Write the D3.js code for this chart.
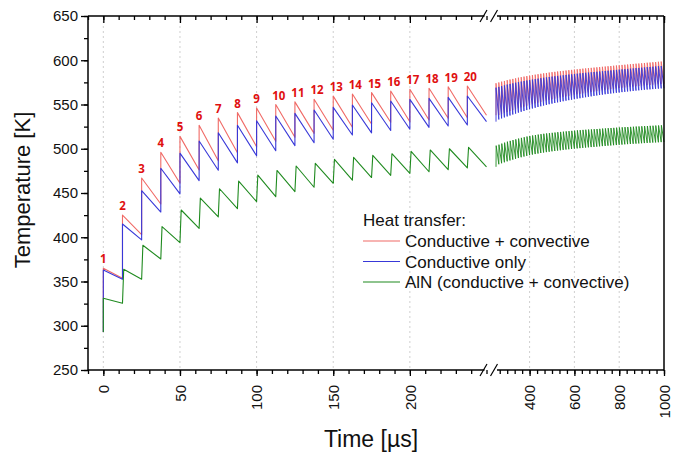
<!DOCTYPE html>
<html>
<head>
<meta charset="utf-8">
<script src="https://cdn.jsdelivr.net/npm/d3@7"></script>
<style>
  html, body { margin: 0; padding: 0; background: #fff; }
  svg { display: block; }
  text { font-family: "Liberation Sans", Arial, sans-serif; fill: #111; }
</style>
</head>
<body>
<svg id="chart" width="681" height="452"></svg>
<script>
// ---------------- DATA ----------------
const yTicks = [250, 300, 350, 400, 450, 500, 550, 600, 650];
const xTicksLeft = [0, 50, 100, 150, 200];
const xTicksRight = [400, 600, 800, 1000];
const legendTitle = "Heat transfer:";
const seriesNames = ["Conductive + convective", "Conductive only", "AlN (conductive + convective)"];
const xTitle = "Time [µs]";
const yTitle = "Temperature [K]";

const cycle = 12.5;            // µs between pulses
const breakAt = 250;           // µs where the axis is broken
const initialTemp = 293;       // K at t = 0
const greenPeakDelay = 0.8;    // µs, AlN peak lags the pulse

// first 20 pulses (left, expanded part of the axis)
const pulseTimesLeft = [0, 12.5, 25, 37.5, 50, 62.5, 75, 87.5, 100, 112.5, 125, 137.5, 150, 162.5, 175, 187.5, 200, 212.5, 225, 237.5];
const pulseLabels = ["1","2","3","4","5","6","7","8","9","10","11","12","13","14","15","16","17","18","19","20"];

const redPeaksLeft   = [365, 425, 467, 496, 514, 526.5, 534.7, 540.8, 546, 550, 553, 556, 559.5, 561.9, 563.4, 565.3, 567.2, 568.3, 570.1, 570.9];
const redTroughsLeft = [353.6, 403, 437.6, 461, 476, 486.5, 495.6, 502.3, 508.4, 513, 517.4, 521, 524.2, 528, 529.9, 530.6, 532.5, 534.4, 535.1, 537.9];
const bluePeaksLeft   = [363, 415, 452.6, 478, 495, 508.8, 518, 526.5, 531.7, 537, 540, 543.8, 546.8, 549.4, 552, 553.9, 555.8, 556.9, 558, 559.6];
const blueTroughsLeft = [352.5, 397, 428.5, 449, 464, 475.7, 484, 492, 497.8, 503.5, 506.8, 510.7, 515.5, 518, 520.6, 522, 524.2, 525.7, 526.8, 530.6];
const greenPeaksLeft   = [331, 363.8, 391, 412, 430.8, 444.3, 454.8, 463.5, 470.3, 475.5, 480.5, 483.5, 488, 490.3, 492.5, 494.4, 497, 498.6, 500, 501.6];
const greenTroughsLeft = [325.4, 352.5, 375.4, 394, 410, 423, 432.3, 440.2, 445.8, 451.5, 456.5, 461, 464.5, 467.5, 470, 472.2, 474, 476.3, 478.3, 479.6];

// pulses 21..80 (right, compressed part of the axis)
const pulseTimesRight = d3.range(250, 1000, cycle);
const redPeaksRight = [574, 574.9, 575.8, 576.6, 577.5, 578.2, 578.9, 579.6, 580.3, 580.9, 581.5, 582.1, 582.7, 583.2, 583.7, 584.2, 584.7, 585.2, 585.6, 586.1,
  586.5, 586.9, 587.3, 587.6, 588, 588.4, 588.8, 589.1, 589.5, 589.8, 590.2, 590.5, 590.8, 591.1, 591.4, 591.7, 592, 592.3, 592.6, 592.9,
  593.2, 593.5, 593.8, 594.1, 594.4, 594.7, 594.9, 595.2, 595.5, 595.8, 596.1, 596.3, 596.6, 596.9, 597.2, 597.4, 597.7, 598, 598.3, 598.5];
const redTroughsRight = [538.1, 539.3, 540.4, 541.5, 542.6, 543.7, 544.7, 545.8, 546.8, 547.7, 548.7, 549.6, 550.5, 551.3, 552.2, 553, 553.8, 554.5, 555.3, 556,
  556.7, 557.4, 558, 558.7, 559.3, 559.9, 560.4, 561, 561.6, 562.1, 562.7, 563.2, 563.7, 564.2, 564.7, 565.2, 565.7, 566.1, 566.6, 567,
  567.4, 567.8, 568.2, 568.6, 569, 569.3, 569.7, 570, 570.3, 570.7, 571, 571.3, 571.6, 571.9, 572.1, 572.4, 572.7, 572.9, 573.2, 573.4];
const bluePeaksRight = [569, 569.9, 570.8, 571.6, 572.5, 573.2, 573.9, 574.6, 575.3, 575.9, 576.5, 577.1, 577.7, 578.2, 578.7, 579.2, 579.7, 580.2, 580.6, 581.1,
  581.5, 581.9, 582.3, 582.6, 583, 583.4, 583.8, 584.1, 584.5, 584.8, 585.2, 585.5, 585.8, 586.1, 586.4, 586.7, 587, 587.3, 587.6, 587.9,
  588.2, 588.5, 588.8, 589.1, 589.4, 589.7, 589.9, 590.2, 590.5, 590.8, 591.1, 591.3, 591.6, 591.9, 592.2, 592.4, 592.7, 593, 593.3, 593.5];
const blueTroughsRight = [533.1, 534.3, 535.4, 536.5, 537.6, 538.7, 539.7, 540.8, 541.8, 542.7, 543.7, 544.6, 545.5, 546.3, 547.2, 548, 548.8, 549.5, 550.3, 551,
  551.7, 552.4, 553, 553.7, 554.3, 554.9, 555.4, 556, 556.6, 557.1, 557.7, 558.2, 558.7, 559.2, 559.7, 560.2, 560.7, 561.1, 561.6, 562,
  562.4, 562.8, 563.2, 563.6, 564, 564.3, 564.7, 565, 565.3, 565.7, 566, 566.3, 566.6, 566.9, 567.1, 567.4, 567.7, 567.9, 568.2, 568.4];
const greenPeaksRight = [503.5, 504.6, 505.8, 506.9, 508, 508.9, 509.8, 510.6, 511.5, 512.3, 513, 513.8, 514.5, 515, 515.5, 516, 516.5, 516.9, 517.3, 517.6,
  518, 518.3, 518.7, 519, 519.3, 519.6, 519.9, 520.2, 520.5, 520.8, 521, 521.3, 521.5, 521.7, 521.9, 522.1, 522.3, 522.5, 522.8, 523,
  523.2, 523.4, 523.6, 523.8, 524, 524.2, 524.4, 524.5, 524.7, 524.9, 525.1, 525.2, 525.4, 525.6, 525.7, 525.9, 526, 526.2, 526.3, 526.5];
const greenTroughsRight = [482.5, 483.6, 484.7, 485.8, 486.8, 487.7, 488.6, 489.5, 490.4, 491.2, 492, 492.8, 493.4, 494, 494.6, 495.2, 495.7, 496.2, 496.6, 497.1,
  497.5, 497.9, 498.3, 498.7, 499.1, 499.4, 499.8, 500.1, 500.4, 500.7, 501, 501.3, 501.6, 501.9, 502.1, 502.4, 502.7, 503, 503.2, 503.5,
  503.7, 504, 504.2, 504.5, 504.7, 505, 505.2, 505.4, 505.6, 505.8, 506, 506.2, 506.4, 506.6, 506.8, 507, 507.1, 507.3, 507.5, 507.6];

// ---------------- STYLE / LAYOUT ----------------
const colors = ["#f06a66", "#3838d8", "#1f8a1f"];
const labelColor = "#e01010";
const plot = { left: 88, right: 664, top: 16, bottom: 370, leftEnd: 486.5, rightStart: 496 };

const svg = d3.select("#chart");
const xL = d3.scaleLinear().domain([-10, breakAt]).range([plot.left, plot.leftEnd]);
const xR = d3.scaleLinear().domain([breakAt, 1000]).range([plot.rightStart, plot.right]);
const y = d3.scaleLinear().domain([250, 650]).range([plot.bottom, plot.top]);

// gridlines (dotted, vertical, at major x ticks)
const grid = svg.append("g");
const gridX = xTicksLeft.map(v => xL(v)).concat(xTicksRight.filter(v => v < 1000).map(v => xR(v)));
grid.selectAll("line").data(gridX).join("line")
  .attr("x1", d => d).attr("x2", d => d)
  .attr("y1", plot.top).attr("y2", plot.bottom)
  .attr("stroke", "#cfcfcf").attr("stroke-width", 1).attr("stroke-dasharray", "2,3");

// ---------------- SERIES ----------------
function buildPoints(times, peaks, troughs, startT, startV, delay) {
  const pts = [[startT, startV]];
  times.forEach((t, i) => {
    pts.push([t + (i === 0 && startT === 0 ? 0 : delay), peaks[i]]);
    pts.push([t + cycle, troughs[i]]);
  });
  return pts;
}
const lineL = d3.line().x(d => xL(d[0])).y(d => y(d[1]));
const lineR = d3.line().x(d => xR(d[0])).y(d => y(d[1]));

const seriesLeft = [
  buildPoints(pulseTimesLeft, redPeaksLeft, redTroughsLeft, 0, initialTemp, 0),
  buildPoints(pulseTimesLeft, bluePeaksLeft, blueTroughsLeft, 0, initialTemp, 0),
  buildPoints(pulseTimesLeft, greenPeaksLeft, greenTroughsLeft, 0, initialTemp, greenPeakDelay)
];
const seriesRight = [
  buildPoints(pulseTimesRight, redPeaksRight, redTroughsRight, breakAt, redTroughsLeft[19], 0),
  buildPoints(pulseTimesRight, bluePeaksRight, blueTroughsRight, breakAt, blueTroughsLeft[19], 0),
  buildPoints(pulseTimesRight, greenPeaksRight, greenTroughsRight, breakAt, greenTroughsLeft[19], greenPeakDelay)
];
const dataG = svg.append("g");
seriesLeft.forEach((pts, i) => {
  dataG.append("path").attr("d", lineL(pts)).attr("fill", "none")
    .attr("stroke", colors[i]).attr("stroke-width", 1.1).attr("stroke-linejoin", "round");
});
seriesRight.forEach((pts, i) => {
  dataG.append("path").attr("d", lineR(pts)).attr("fill", "none")
    .attr("stroke", colors[i]).attr("stroke-width", 0.9).attr("stroke-linejoin", "round");
});

// pulse number labels
svg.append("g").selectAll("text").data(pulseLabels).join("text")
  .attr("x", (d, i) => xL(pulseTimesLeft[i]) + (d.length > 1 ? 3 : 0))
  .attr("y", (d, i) => y(redPeaksLeft[i]) - 5)
  .attr("text-anchor", "middle")
  .style("font-family", "'Open Sans', sans-serif")
  .style("font-weight", "bold").style("font-size", "11.5px")
  .style("fill", labelColor)
  .text(d => d);

// ---------------- AXES ----------------
const minorLeft = d3.range(-10, breakAt + 0.1, 10);
const minorRight = d3.range(1000, breakAt - 0.1, -200 / 6);
const minorY = d3.range(250, 651, 25);

function styleAxis(g) {
  g.select(".domain").remove();
  g.selectAll("line").attr("stroke", "#000").attr("stroke-width", 1.3);
}

// bottom axis
const bottomY = plot.bottom;
svg.append("g").attr("transform", `translate(0,${bottomY})`)
  .call(d3.axisBottom(xL).tickValues(minorLeft).tickSize(4).tickFormat("")).call(styleAxis);
svg.append("g").attr("transform", `translate(0,${bottomY})`)
  .call(d3.axisBottom(xR).tickValues(minorRight).tickSize(4).tickFormat("")).call(styleAxis);
function rotLabels(g) {
  g.selectAll("text")
    .attr("transform", "rotate(-90)")
    .attr("x", -15).attr("y", 0).attr("dy", "0.35em")
    .attr("text-anchor", "end")
    .style("font-size", "15px").style("fill", "#111");
}
svg.append("g").attr("transform", `translate(0,${bottomY})`)
  .call(d3.axisBottom(xL).tickValues(xTicksLeft).tickSize(6).tickFormat(d3.format("d"))).call(styleAxis).call(rotLabels);
svg.append("g").attr("transform", `translate(0,${bottomY})`)
  .call(d3.axisBottom(xR).tickValues(xTicksRight).tickSize(6).tickFormat(d3.format("d"))).call(styleAxis).call(rotLabels);

// top axis (ticks pointing inward)
svg.append("g").attr("transform", `translate(0,${plot.top})`)
  .call(d3.axisTop(xL).tickValues(minorLeft).tickSize(-4).tickFormat("")).call(styleAxis);
svg.append("g").attr("transform", `translate(0,${plot.top})`)
  .call(d3.axisTop(xR).tickValues(minorRight).tickSize(-4).tickFormat("")).call(styleAxis);
svg.append("g").attr("transform", `translate(0,${plot.top})`)
  .call(d3.axisTop(xL).tickValues(xTicksLeft).tickSize(-7).tickFormat("")).call(styleAxis);
svg.append("g").attr("transform", `translate(0,${plot.top})`)
  .call(d3.axisTop(xR).tickValues(xTicksRight).tickSize(-7).tickFormat("")).call(styleAxis);

// left axis
svg.append("g").attr("transform", `translate(${plot.left},0)`)
  .call(d3.axisLeft(y).tickValues(minorY).tickSize(4).tickFormat("")).call(styleAxis);
svg.append("g").attr("transform", `translate(${plot.left},0)`)
  .call(d3.axisLeft(y).tickValues(yTicks).tickSize(7).tickPadding(3)).call(styleAxis)
  .call(g => g.selectAll("text").style("font-size", "15px").style("fill", "#111"));

// frame lines with break
const frame = svg.append("g").attr("stroke", "#000").attr("stroke-width", 1.5).attr("fill", "none");
const gapL = plot.leftEnd - 2, gapR = plot.rightStart + 1;
[plot.top, plot.bottom].forEach(yy => {
  frame.append("line").attr("x1", plot.left).attr("x2", gapL).attr("y1", yy).attr("y2", yy);
  frame.append("line").attr("x1", gapR).attr("x2", plot.right).attr("y1", yy).attr("y2", yy);
  [gapL - 1, gapR - 3].forEach(cx => {
    frame.append("line").attr("x1", cx - 3.5).attr("y1", yy + 6).attr("x2", cx + 3.5).attr("y2", yy - 6)
      .attr("stroke-width", 1.2);
  });
});
frame.append("line").attr("x1", plot.left).attr("x2", plot.left).attr("y1", plot.top).attr("y2", plot.bottom + 0.7);
frame.append("line").attr("x1", plot.right).attr("x2", plot.right).attr("y1", plot.top).attr("y2", plot.bottom + 0.7);

// axis titles
svg.append("text").attr("x", 371).attr("y", 447).attr("text-anchor", "middle")
  .style("font-size", "23px").text(xTitle);
svg.append("text").attr("transform", "translate(30,190) rotate(-90)").attr("text-anchor", "middle")
  .style("font-size", "22px").text(yTitle);

// legend
const lg = svg.append("g");
lg.append("text").attr("x", 363).attr("y", 226).style("font-size", "17px").text(legendTitle);
seriesNames.forEach((name, i) => {
  const yy = 241 + i * 20.5;
  lg.append("line").attr("x1", 363).attr("x2", 400).attr("y1", yy).attr("y2", yy)
    .attr("stroke", colors[i]).attr("stroke-width", 1.1);
  lg.append("text").attr("x", 405).attr("y", yy + 6).style("font-size", "17px").text(name);
});
</script>
</body>
</html>
